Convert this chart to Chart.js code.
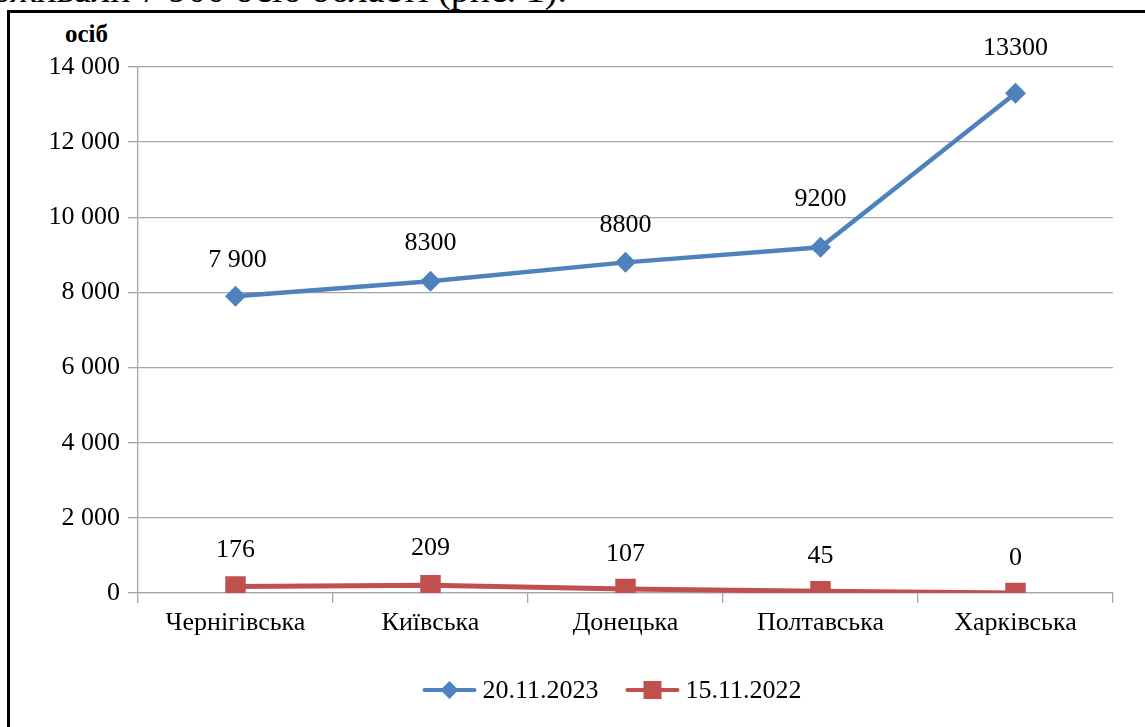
<!DOCTYPE html>
<html><head><meta charset="utf-8">
<script src="https://cdn.jsdelivr.net/npm/chart.js@4"></script>
<style>
html,body{margin:0;padding:0;background:#fff;overflow:hidden;}
#wrap{position:relative;width:1145px;height:727px;overflow:hidden;}
#frame{position:absolute;left:7px;top:10px;width:2000px;height:2000px;border-left:3px solid #000;border-top:3px solid #000;}
#top{position:absolute;right:578px;top:-30px;font-family:'Liberation Serif';font-size:38px;line-height:38px;white-space:nowrap;color:#000;}
#unit{position:absolute;left:65px;top:19px;font-family:'Liberation Serif';font-weight:bold;font-size:25px;line-height:30px;color:#000;}
canvas{position:absolute;left:0;top:0;}
</style>
</head><body>
<div id="wrap">
<div id="top">проживали 7 900 осіб області (рис. 1).</div>
<div id="frame"></div>
<div id="unit">осіб</div>
<canvas id="c" width="1145" height="727"></canvas>
</div>
<script>
const categories = ['Чернігівська','Київська','Донецька','Полтавська','Харківська'];
const series2023 = [7900, 8300, 8800, 9200, 13300];
const labels2023 = ['7 900','8300','8800','9200','13300'];
const series2022 = [176, 209, 107, 45, 0];
const labels2022 = ['176','209','107','45','0'];
const seriesNames = ['20.11.2023','15.11.2022'];
const yMin = 0, yMax = 14000, yStep = 2000;

const FONT = '"Liberation Serif", "Times New Roman", serif';
const GRID = '#a6a6a6';
const BLUE = '#4f81bd';
const RED = '#c0504d';

function fmt(v){ return String(v).replace(/\B(?=(\d{3})+(?!\d))/g,' '); }

const labelPlugin = {
  id:'labelsAndLegend',
  afterDatasetsDraw(chart){
    const ctx = chart.ctx;
    ctx.save();
    ctx.font = '26px ' + FONT;
    ctx.fillStyle = '#000';
    ctx.textAlign = 'center';
    ctx.textBaseline = 'middle';
    chart.data.datasets.forEach((ds, i) => {
      const meta = chart.getDatasetMeta(i);
      meta.data.forEach((el, j) => {
        const o = ds.labelShift[j];
        ctx.fillText(ds.valueLabels[j], el.x + o[0], el.y - o[1]);
      });
    });
    // legend
    const ly = 690;
    const lineW = 54, gapT = 6, gapItem = 27;
    const widths = chart.data.datasets.map(ds => ctx.measureText(ds.label).width);
    let total = 0;
    widths.forEach((w,i)=>{ total += lineW + gapT + w + (i < widths.length-1 ? gapItem : 0); });
    let x = 612 - total/2;
    chart.data.datasets.forEach((ds, i) => {
      ctx.strokeStyle = ds.borderColor;
      ctx.lineWidth = 4;
      ctx.lineCap = 'round';
      ctx.beginPath(); ctx.moveTo(x+2, ly); ctx.lineTo(x+lineW-2, ly); ctx.stroke();
      const cx = x + lineW/2;
      ctx.fillStyle = ds.backgroundColor;
      ctx.beginPath();
      if (ds.pointStyle === 'rectRot') {
        const r = 9;
        ctx.moveTo(cx, ly-r); ctx.lineTo(cx+r, ly); ctx.lineTo(cx, ly+r); ctx.lineTo(cx-r, ly);
      } else {
        const h = 9;
        ctx.rect(cx-h, ly-h, 2*h, 2*h);
      }
      ctx.closePath(); ctx.fill();
      ctx.fillStyle = '#000';
      ctx.textAlign = 'left';
      ctx.fillText(ds.label, x + lineW + gapT, ly + 1);
      x += lineW + gapT + widths[i] + gapItem;
    });
    ctx.restore();
  }
};

new Chart(document.getElementById('c'), {
  type:'line',
  data:{
    labels: categories,
    datasets:[
      {label: seriesNames[0], data: series2023, valueLabels: labels2023,
       labelShift: [[2,36],[0,38],[0,37],[0,48],[0,45]],
       borderColor: BLUE, backgroundColor: BLUE, borderWidth: 4.5,
       pointStyle:'rectRot', pointRadius: 10.5, pointHoverRadius: 10.5,
       pointBorderWidth: 0, tension: 0},
      {label: seriesNames[1], data: series2022, valueLabels: labels2022,
       labelShift: [[0,36],[0,37],[0,35],[0,35],[0,35]],
       borderColor: RED, backgroundColor: RED, borderWidth: 5,
       pointStyle:'rect', pointRadius: 14.5, pointHoverRadius: 14.5,
       pointBorderWidth: 0, tension: 0}
    ]
  },
  options:{
    responsive:false,
    animation:false,
    events:[],
    layout:{padding:{left:0,right:32,top:67,bottom:0}},
    plugins:{legend:{display:false}, tooltip:{enabled:false}},
    scales:{
      x:{
        offset:true,
        grid:{offset:true, drawOnChartArea:false, color:GRID, tickLength:10, lineWidth:1.3},
        border:{color:GRID, width:1.3},
        ticks:{font:{family:FONT, size:26}, color:'#000', padding:5},
        afterFit(s){ s.height = 134; }
      },
      y:{
        min:yMin, max:yMax,
        grid:{color:GRID, tickLength:10, lineWidth:1.3},
        border:{color:GRID, width:1.3},
        ticks:{stepSize:yStep, font:{family:FONT, size:26}, color:'#000', padding:8,
               callback:(v)=>fmt(v)},
        afterFit(s){ s.width = 138; }
      }
    }
  },
  plugins:[labelPlugin]
});
</script>
</body></html>
